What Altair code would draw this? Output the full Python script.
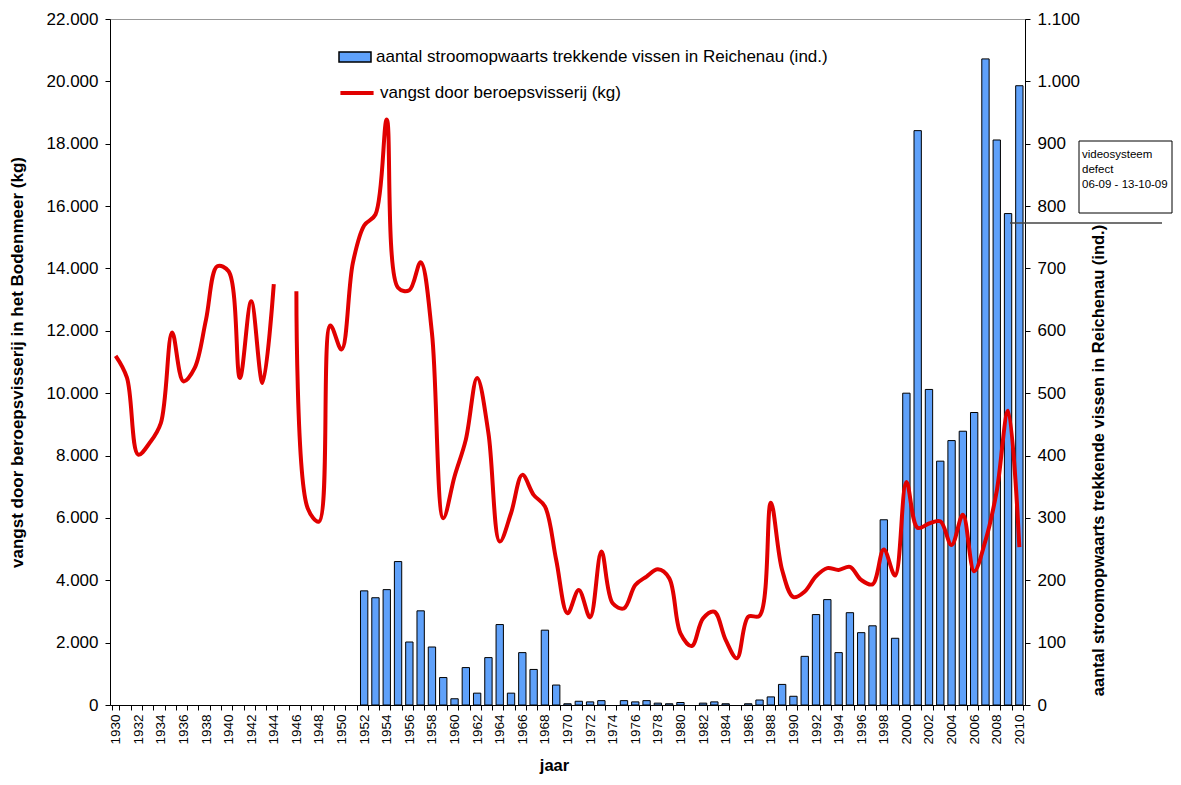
import altair as alt
import pandas as pd

# ---- data ----
years = list(range(1930, 2011))

# catch by professional fishery (kg), None = no data (1945)
catch_kg = [
    11200, 10500, 8030, 8400, 9040, 11950, 10380, 10810, 12360, 14070,   # 1930-1939
    13910, 10490, 12950, 10330, 13500, None, 13270, 6310, 5880, 12170,   # 1940-1949
    11400, 14180, 15380, 15730, 18780, 13380, 13300, 14200, 11930, 5990, # 1950-1959
    7330, 8510, 10490, 8720, 5240, 6150, 7380, 6740, 6370, 4650,         # 1960-1969
    2940, 3690, 2810, 4920, 3260, 3100, 3850, 4120, 4350, 4070,          # 1970-1979
    2300, 1890, 2780, 2990, 2090, 1500, 2830, 2860, 6490, 4330,          # 1980-1989
    3460, 3640, 4130, 4390, 4330, 4430, 4010, 3870, 4990, 4150,          # 1990-1999
    7150, 5680, 5820, 5890, 5130, 6100, 4290, 5270, 6870, 9440,          # 2000-2009
    5060,                                                                # 2010
]

# upstream migrating fish counted at Reichenau (ind.)
fish_years = list(range(1952, 2011))
fish_count = [
    183, 172, 185, 230, 101, 151, 93, 44,          # 1952-1959
    10, 60, 19, 76, 129, 19, 84, 57, 120, 32,      # 1960-1969
    2, 6, 5, 7, None, 7, 5, 7, 3, 2,               # 1970-1979
    4, None, 3, 5, 2, None, 2, 8, 13, 33,          # 1980-1989
    14, 78, 145, 169, 84, 148, 116, 127, 297, 107, # 1990-1999
    500, 921, 506, 391, 424, 439, 469, 1036, 906, 788,  # 2000-2009
    993,                                           # 2010
]

bar_label = "aantal stroomopwaarts trekkende vissen in Reichenau (ind.)"
line_label = "vangst door beroepsvisserij (kg)"
left_title = "vangst door beroepsvisserij in het Bodenmeer (kg)"
right_title = "aantal stroomopwaarts trekkende vissen in Reichenau (ind.)"
x_title = "jaar"
note_lines = ["videosysteem", "defect", "06-09 - 13-10-09"]

# ---- tables ----
line_df = pd.DataFrame({
    "year": years,
    "kg": catch_kg,
    "seg": ["a" if y < 1945 else "b" for y in years],
    "serie": line_label,
})
line_df = line_df.dropna(subset=["kg"])

bar_df = pd.DataFrame({"year": fish_years, "n": fish_count, "serie": bar_label})
bar_df = bar_df.dropna(subset=["n"])

FONT = "Liberation Sans"
W, H = 915, 686

x_enc = alt.X(
    "year:O",
    scale=alt.Scale(domain=years, paddingInner=0.35, paddingOuter=0.175),
    axis=alt.Axis(
        title=x_title,
        labelAngle=270,
        labelExpr="datum.value % 2 == 0 ? datum.label : ''",
        tickBand="extent",
        labelFontSize=13.5,
        labelPadding=4,
        tickSize=5,
        tickColor="black",
        domainColor="black",
        labelColor="black",
        titleFontSize=16.5,
        titleFontWeight="bold",
        titlePadding=13,
        titleX=444,
        grid=False,
    ),
)

bars = alt.Chart(bar_df).mark_bar(stroke="black", strokeWidth=1).encode(
    x=x_enc,
    y=alt.Y(
        "n:Q",
        scale=alt.Scale(domain=[0, 1100], nice=False),
        axis=alt.Axis(
            orient="right",
            title=right_title,
            values=list(range(0, 1101, 100)),
            labelExpr="replace(format(datum.value, ',d'), ',', '.')",
            labelFontSize=17,
            labelPadding=7,
            tickSize=5,
            tickColor="black",
            domainColor="black",
            labelColor="black",
            titleFontSize=16.5,
            titleFontWeight="bold",
            titleAngle=270,
            titleY=441,
            titlePadding=27,
            grid=False,
        ),
    ),
    fill=alt.Fill(
        "serie:N",
        scale=alt.Scale(domain=[bar_label], range=["#5fa1fa"]),
        legend=alt.Legend(
            orient="none",
            legendX=228,
            legendY=21,
            title=None,
            symbolType="M-1,-0.32L1,-0.32L1,0.32L-1,0.32Z",
            symbolSize=1024,
            symbolStrokeColor="black",
            symbolStrokeWidth=1.5,
            labelFontSize=17,
            labelLimit=600,
            labelOffset=4,
            padding=0,
        ),
    ),
)

line = alt.Chart(line_df).mark_line(strokeWidth=4, interpolate="catmull-rom").encode(
    x=alt.X("year:O", scale=alt.Scale(domain=years)),
    y=alt.Y(
        "kg:Q",
        scale=alt.Scale(domain=[0, 22000], nice=False),
        axis=alt.Axis(
            orient="left",
            title=left_title,
            values=list(range(0, 22001, 2000)),
            labelExpr="replace(format(datum.value, ',d'), ',', '.')",
            labelFontSize=17,
            labelPadding=7,
            tickSize=5,
            tickColor="black",
            domainColor="black",
            labelColor="black",
            titleFontSize=17,
            titleFontWeight="bold",
            titlePadding=20,
            grid=False,
        ),
    ),
    detail="seg:N",
    stroke=alt.Stroke(
        "serie:N",
        scale=alt.Scale(domain=[line_label], range=["#e10000"]),
        legend=alt.Legend(
            orient="none",
            legendX=228,
            legendY=55,
            title=None,
            symbolType="stroke",
            symbolSize=1100,
            symbolStrokeWidth=4,
            labelFontSize=17,
            labelLimit=600,
            labelOffset=4,
            padding=0,
        ),
    ),
)

one = pd.DataFrame({"k": [0]})

note_box = alt.Chart(one).mark_rect(fill="white", stroke="black", strokeWidth=1).encode(
    x=alt.value(969), x2=alt.value(1062), y=alt.value(122), y2=alt.value(194)
)
note_rule = alt.Chart(one).mark_rule(color="#444444", strokeWidth=1.5).encode(
    x=alt.value(900), x2=alt.value(1052), y=alt.value(204)
)
note_text = alt.Chart(one).mark_text(
    align="left", baseline="alphabetic", fontSize=11.5, lineBreak="\n", lineHeight=15,
    font=FONT, color="black",
).encode(
    x=alt.value(972), y=alt.value(139), text=alt.value("\n".join(note_lines))
)

chart = (
    alt.layer(bars, line, note_rule, note_box, note_text)
    .resolve_scale(y="independent")
    .properties(
        width=W,
        height=H,
        autosize=alt.AutoSizeParams(type="none"),
        padding={"left": 102, "top": 11, "right": 148, "bottom": 72},
    )
    .configure(font=FONT)
    .configure_view(stroke="#999999", strokeWidth=1)
    .configure_axis(labelFont=FONT, titleFont=FONT, titleColor="black")
    .configure_legend(labelFont=FONT, labelColor="black")
)

chart.save("out.html", embed_options={"renderer": "svg", "actions": False})
